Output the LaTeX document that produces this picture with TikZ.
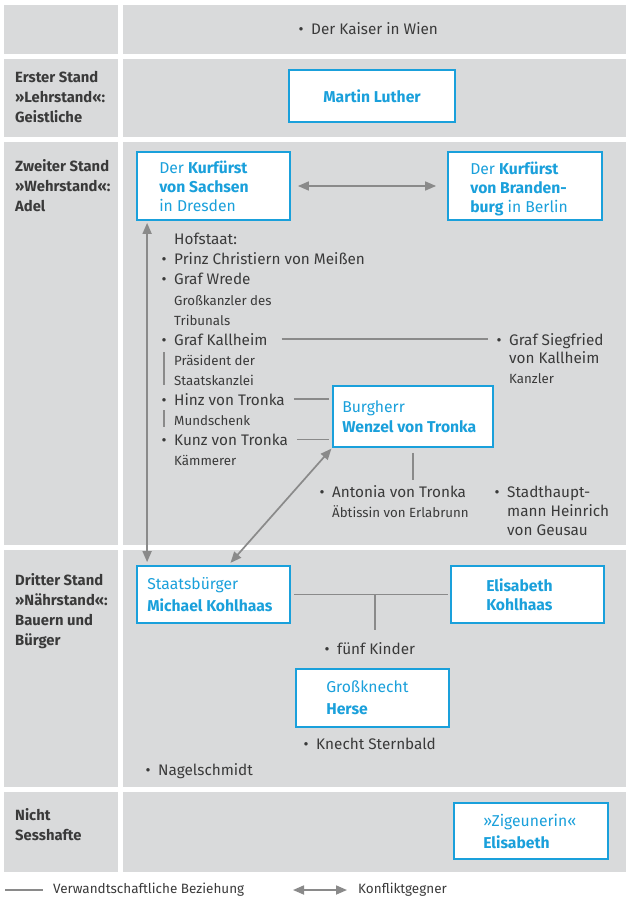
\documentclass[tikz,border=0pt]{standalone}
\usepackage{fontspec}
\setmainfont{Fira Sans}
\usetikzlibrary{positioning,arrows.meta}
\definecolor{kblue}{HTML}{1AA0DB}
\definecolor{kcell}{HTML}{D9DADB}
\definecolor{kline}{HTML}{8A8A8A}
\definecolor{ktext}{HTML}{3A3A3A}
\newcommand{\itm}{\makebox[12.5pt][l]{\textbullet}}

\begin{document}
\begin{tikzpicture}[x=1pt, y=-1pt,
	lab/.style={font=\fontsize{14.8}{20}\selectfont\bfseries, text=ktext, align=left, anchor=north west, inner sep=0pt},
	txt/.style={font=\fontsize{15.3}{18}\selectfont, text=ktext, anchor=base west, inner sep=0pt},
	sml/.style={font=\fontsize{13.3}{15}\selectfont, text=ktext, anchor=base west, inner sep=0pt},
	box/.style={draw=kblue, line width=1.8pt, fill=white, inner sep=0pt},
	btxt/.style={font=\fontsize{15.7}{19}\selectfont, text=kblue, align=left, inner sep=0pt},
	rel/.style={draw=kline, line width=1.7pt},
	foe/.style={draw=kline, line width=1.7pt, {Triangle[length=11pt,width=9pt]}-{Triangle[length=11pt,width=9pt]}}]
	      	\useasboundingbox (0,0) rectangle (626,899);
	      	\foreach \t/\b in {5/54, 59/137, 142/545, 550/787, 792/872} {
	      		\fill[kcell] (4,\t) rectangle (118,\b);
	      		\fill[kcell] (123,\t) rectangle (626,\b);
	      	}
	      	\node[lab] (R2) at (15,71) {Erster Stand\\»Lehrstand«:\\Geistliche};
	      	\node[lab] (R3) at (15,159) {Zweiter Stand\\»Wehrstand«:\\Adel};
	      	\node[lab] (R4) at (15,573) {Dritter Stand\\»Nährstand«:\\Bauern und\\Bürger};
	      	\node[lab] (R5) at (15,808) {Nicht\\Sesshafte};

	      	\node[txt] (KW) at (298.5,35) {\itm Der Kaiser in Wien};

	      	\node[box, minimum width=166, minimum height=52, btxt, font=\fontsize{15.7}{19}\selectfont\bfseries] (ML) at (372,96) {Martin Luther};

	      	\node[box, minimum width=153, minimum height=68] (SX) at (213.5,186) {};
	      	\node[btxt, right=23pt of SX.west] (SXt) {Der \textbf{Kurfürst}\\\textbf{von Sachsen}\\in Dresden};
	      	\node[box, minimum width=154, minimum height=68] (BB) at (525,186) {};
	      	\node[btxt, right=23pt of BB.west, yshift=-2.5pt] (BBt) {Der \textbf{Kurfürst}\\\textbf{von Branden-}\\\textbf{burg} in Berlin};
	      	\node[box, minimum width=160, minimum height=61] (BH) at (413,416.5) {};
	      	\node[btxt, right=10pt of BH.west, font=\fontsize{15.7}{20}\selectfont] (BHt) {Burgherr\\\textbf{Wenzel von Tronka}};
	      	\node[box, minimum width=153, minimum height=57] (MK) at (213.5,594.5) {};
	      	\node[btxt, right=11pt of MK.west, font=\fontsize{15.7}{21.5}\selectfont] (MKt) {Staatsbürger\\\textbf{Michael Kohlhaas}};
	      	\node[box, minimum width=153, minimum height=57] (EK) at (527.5,594.5) {};
	      	\node[btxt, right=36pt of EK.west, font=\fontsize{15.7}{19}\selectfont\bfseries] (EKt) {Elisabeth\\Kohlhaas};
	      	\node[box, minimum width=153, minimum height=58] (GH) at (372.5,698) {};
	      	\node[btxt, right=31pt of GH.west, font=\fontsize{15.7}{22}\selectfont] (GHt) {Großknecht\\\textbf{Herse}};
	      	\node[box, minimum width=154, minimum height=56] (ZE) at (531,831) {};
	      	\node[btxt, right=30pt of ZE.west, font=\fontsize{15.7}{22}\selectfont] (ZEt) {»Zigeunerin«\\\textbf{Elisabeth}};

	      	\node[txt] (HS) at (174,244) {Hofstaat:};
	      	\node[txt] (PC) at (161.5,264) {\itm Prinz Christiern von Meißen};
	      	\node[txt] (GW) at (161.5,284) {\itm Graf Wrede};
	      	\node[sml] (GW1) at (174,305) {Großkanzler des};
	      	\node[sml] (GW2) at (174,325) {Tribunals};
	      	\node[txt] (GK) at (161.5,345) {\itm Graf Kallheim};
	      	\node[sml] (GK1) at (174,365) {Präsident der};
	      	\node[sml] (GK2) at (174,385) {Staatskanzlei};
	      	\node[txt] (HT) at (161.5,405) {\itm Hinz von Tronka};
	      	\node[sml] (HT1) at (174,425) {Mundschenk};
	      	\node[txt] (KT) at (161.5,445) {\itm Kunz von Tronka};
	      	\node[sml] (KT1) at (174,465) {Kämmerer};

	      	\node[txt] (GS) at (496.5,345) {\itm Graf Siegfried};
	      	\node[txt] (GS1) at (509,363) {von Kallheim};
	      	\node[sml] (GS2) at (509,383) {Kanzler};
	      	\node[txt] (AT) at (319.5,497) {\itm Antonia von Tronka};
	      	\node[sml] (AT1) at (332,517) {Äbtissin von Erlabrunn};
	      	\node[txt] (HG) at (494.5,497) {\itm Stadthaupt-};
	      	\node[txt] (HG1) at (507,516) {mann Heinrich};
	      	\node[txt] (HG2) at (507,535) {von Geusau};

	      	\node[txt] (FK) at (324.5,654) {\itm fünf Kinder};
	      	\node[txt] (KS) at (303.5,749) {\itm Knecht Sternbald};
	      	\node[txt] (NS) at (145.5,775) {\itm Nagelschmidt};

	      	\draw[foe, shorten <=7pt, shorten >=11pt] (SX) -- (BB);
	      	\draw[foe, shorten <=2pt, shorten >=3pt] ([xshift=11pt]SX.south west) -- ([xshift=11pt]MK.north west);
	      	\draw[foe, shorten <=1pt, shorten >=3pt] (BH.south west) -- ([xshift=15pt]MK.north);
	      	\draw[rel, shorten <=14pt, shorten >=8.5pt] (GK.east) -- (GK.east -| GS.west);
	      	\draw[rel] ([shift={(2.6pt,-7pt)}]GK.south west) -- ([shift={(2.6pt,7.5pt)}]HT.north west);
	      	\draw[rel] ([shift={(2.6pt,-5pt)}]HT.south west) -- ([shift={(2.6pt,6.5pt)}]KT.north west);
	      	\draw[rel, shorten <=9pt, shorten >=3pt] (HT.east) -- (HT.east -| BH.west);
	      	\draw[rel, shorten <=9pt, shorten >=3pt] (KT.east) -- (KT.east -| BH.west);
	      	\draw[rel, shorten <=5pt, shorten >=4.5pt] (BH.south) -- (BH.south |- AT.north);
	      	\draw[rel, shorten <=3pt, shorten >=2pt] (MK) -- (EK);
	      	\coordinate (KM) at (375,594.5);
	      	\draw[rel, shorten >=11.5pt] (KM) -- (KM |- FK.north);

	      	\coordinate (LA) at (5,890);
	      	\coordinate (LB) at (43,890);
	      	\draw[rel] (LA) -- (LB);
	      	\node[txt, font=\fontsize{13.5}{16}\selectfont, anchor=west, right=10pt of LB] (LR) {Verwandtschaftliche Beziehung};
	      	\coordinate (LC) at (293,890);
	      	\coordinate (LD) at (347,890);
	      	\draw[foe] (LC) -- (LD);
	      	\node[txt, font=\fontsize{13.5}{16}\selectfont, anchor=west, right=11pt of LD] (LK) {Konfliktgegner};
	      \end{tikzpicture}
\end{document}
